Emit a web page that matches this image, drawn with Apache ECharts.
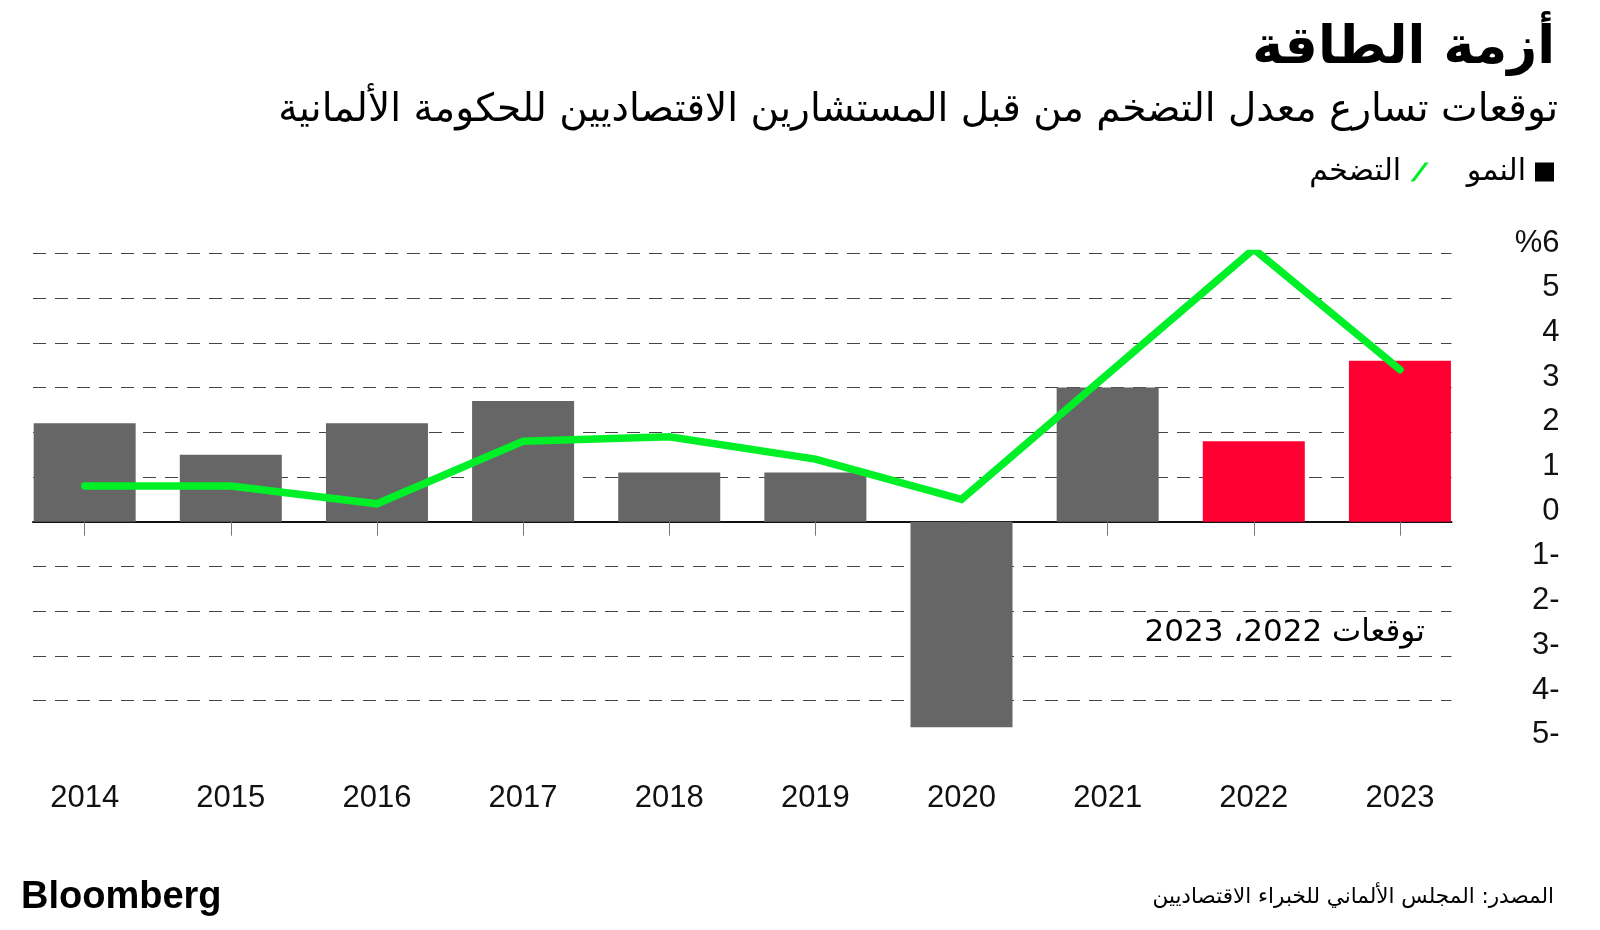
<!DOCTYPE html>
<html><head><meta charset="utf-8">
<script src="https://cdn.jsdelivr.net/npm/echarts@6/dist/echarts.min.js"></script>
<style>html,body{margin:0;padding:0;background:#fff}#c{width:1600px;height:930px}</style>
</head><body><div id="c"></div>
<script>
// ---- data ----
const years = ['2014','2015','2016','2017','2018','2019','2020','2021','2022','2023'];
const growth = [2.2, 1.5, 2.2, 2.7, 1.1, 1.1, -4.6, 3.0, 1.8, 3.6];
const inflation = [0.8, 0.8, 0.4, 1.8, 1.9, 1.4, 0.5, 3.3, 6.1, 3.4];
const forecastYears = ['2022', '2023'];
const yMin = -5, yMax = 6, yStep = 1;

const titleText = 'أزمة الطاقة';
const subtitleText = 'توقعات تسارع معدل التضخم من قبل المستشارين الاقتصاديين للحكومة الألمانية';
const growthName = 'النمو';
const inflationName = 'التضخم';
const noteText = 'توقعات 2022، 2023';
const sourceText = 'المصدر: المجلس الألماني للخبراء الاقتصاديين';

const GRAY = '#666666', RED = '#ff0033', GREEN = '#00f028';
const AR = 'DejaVu Sans', LAT = 'Liberation Sans';

const chart = echarts.init(document.getElementById('c'), null, {renderer: 'canvas'});
const TOP = 253.5, BOTTOM = 930 - 745.2;

chart.setOption({
  backgroundColor: '#fff',
  animation: false,
  title: [
    {text: titleText, right: 40, top: 18, textStyle: {fontFamily: AR, fontWeight: 'bold', fontSize: 52, color: '#000'}},
    {text: subtitleText, right: 37, top: 86, textStyle: {fontFamily: AR, fontWeight: 'normal', fontSize: 39, color: '#000'}},
    {text: noteText, right: 170, top: 612, textStyle: {fontFamily: AR, fontWeight: 'normal', fontSize: 31, color: '#000'}},
    {text: sourceText, right: 41, top: 881, textStyle: {fontFamily: AR, fontWeight: 'normal', fontSize: 21.5, color: '#000'}},
    {text: 'Bloomberg', left: 16, top: 874, textStyle: {fontFamily: LAT, fontWeight: 'bold', fontSize: 38, color: '#000'}}
  ],
  legend: {
    right: 41, top: 152, align: 'right', orient: 'horizontal',
    itemGap: 38, itemWidth: 19, itemHeight: 19,
    textStyle: {fontFamily: AR, fontSize: 30, color: '#000', padding: [0, 4, 0, 0]},
    data: [
      {name: inflationName, icon: 'path://M0,20 L15,0 L19,0 L4,20 Z', itemStyle: {color: GREEN}},
      {name: growthName, icon: 'rect', itemStyle: {color: '#000'}}
    ]
  },
  grid: [
    {left: 11.6, right: 127, top: TOP, bottom: BOTTOM},
    {left: 33, right: 148.5, top: TOP, bottom: BOTTOM}
  ],
  xAxis: [
    {
      type: 'category', gridIndex: 0, data: years, position: 'bottom',
      axisLine: {show: false},
      axisTick: {show: true, alignWithLabel: true, length: 14, lineStyle: {color: '#777', width: 1}},
      axisLabel: {interval: 0, margin: 38, fontFamily: LAT, fontSize: 31, color: '#111'},
      splitLine: {show: false}
    },
    {
      type: 'value', gridIndex: 1, min: 0, max: 1,
      axisLine: {show: true, onZero: true, lineStyle: {color: '#111', width: 2}},
      axisTick: {show: false}, axisLabel: {show: false}, splitLine: {show: false}
    }
  ],
  yAxis: [
    {type: 'value', gridIndex: 0, min: yMin, max: yMax, interval: yStep, show: false, splitLine: {show: false}},
    {
      type: 'value', gridIndex: 1, min: yMin, max: yMax, interval: yStep, position: 'right',
      axisLine: {show: false}, axisTick: {show: false},
      splitLine: {show: true, showMinLine: false, lineStyle: {color: '#444', width: 1, type: [13, 9]}},
      axisLabel: {
        margin: 108, align: 'right', fontFamily: LAT, fontSize: 31, color: '#111',
        verticalAlign: 'bottom', lineHeight: 21,
        formatter: v => v === yMax ? '%' + v : (v < 0 ? (-v) + '-' : String(v))
      }
    }
  ],
  series: [
    {
      name: growthName, type: 'bar', xAxisIndex: 0, yAxisIndex: 0, barWidth: 102, z: 2,
      itemStyle: {color: GRAY},
      data: growth.map((v, i) => ({value: v, itemStyle: {color: forecastYears.includes(years[i]) ? RED : GRAY}}))
    },
    {
      name: inflationName, type: 'line', xAxisIndex: 0, yAxisIndex: 0, z: 5,
      symbol: 'none', lineStyle: {color: GREEN, width: 7.5, cap: 'round', join: 'miter'},
      itemStyle: {color: GREEN},
      data: inflation
    }
  ]
});
</script></body></html>
